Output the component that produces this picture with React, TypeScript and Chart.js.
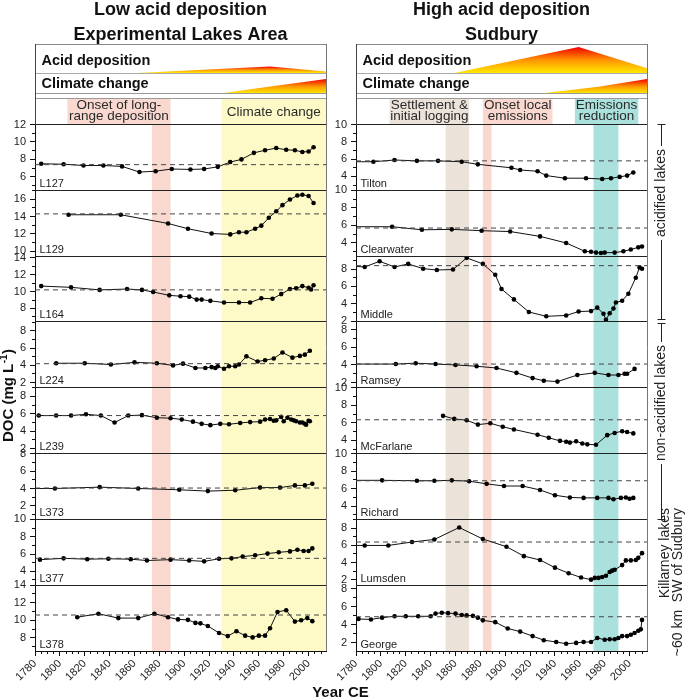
import React, { useEffect, useRef } from "react";
import { Chart, registerables } from "chart.js";

Chart.register(...registerables);

const FONT = "'Liberation Sans', Arial, Helvetica, sans-serif";
Chart.defaults.font.family = FONT;

// ---------------- data ----------------
const X_MIN = 1780;
const X_MAX = 2014;

// Low acid deposition – Experimental Lakes Area
const L127_YEARS = [1785, 1803, 1819, 1835, 1850, 1864, 1877, 1890, 1905, 1916, 1927, 1937, 1946, 1956, 1965, 1974, 1982, 1989, 1995, 2000, 2004];
const L127_DOC = [7.5, 7.45, 7.3, 7.3, 7.2, 6.55, 6.65, 6.9, 6.85, 6.9, 7.15, 7.7, 8.0, 8.75, 9.05, 9.3, 9.1, 9.05, 8.85, 8.9, 9.4];

const L129_YEARS = [1807, 1849, 1887, 1903, 1922, 1937, 1944, 1950, 1957, 1962, 1968, 1974, 1979, 1985, 1991, 1995, 2000, 2004];
const L129_DOC = [14.2, 14.2, 13.2, 12.6, 12.05, 11.95, 12.2, 12.2, 12.6, 12.95, 13.85, 14.6, 15.3, 15.95, 16.4, 16.5, 16.35, 15.55];

const L164_YEARS = [1785, 1809, 1832, 1854, 1866, 1875, 1888, 1897, 1904, 1910, 1914, 1921, 1932, 1944, 1953, 1962, 1971, 1978, 1985, 1990, 1995, 2000, 2002, 2004];
const L164_DOC = [10.65, 10.5, 10.2, 10.3, 10.2, 9.95, 9.55, 9.45, 9.4, 9.05, 9.05, 8.9, 8.7, 8.7, 8.7, 9.2, 9.15, 9.7, 10.3, 10.4, 10.65, 10.45, 10.25, 10.75];

const L224_YEARS = [1797, 1820, 1841, 1860, 1878, 1891, 1899, 1909, 1917, 1922, 1925, 1927, 1932, 1936, 1941, 1944, 1950, 1959, 1965, 1972, 1979, 1987, 1993, 1997, 2001];
const L224_DOC = [4.25, 4.25, 4.1, 4.35, 4.25, 4.0, 4.2, 3.7, 3.7, 3.8, 3.7, 3.9, 3.6, 3.9, 3.9, 4.1, 5.05, 4.45, 4.6, 4.8, 5.5, 4.9, 5.1, 5.25, 5.7];

const L239_YEARS = [1783, 1797, 1809, 1821, 1833, 1844, 1855, 1866, 1878, 1889, 1898, 1907, 1914, 1921, 1929, 1936, 1945, 1953, 1961, 1965, 1969, 1972, 1974, 1978, 1980, 1983, 1986, 1988, 1990, 1993, 1995, 1997, 1998, 2000, 2001];
const L239_DOC = [5.8, 5.8, 5.8, 5.95, 5.8, 5.0, 5.8, 5.85, 5.55, 5.5, 5.35, 5.1, 4.85, 4.7, 4.85, 4.8, 4.95, 5.05, 5.1, 5.35, 5.4, 5.2, 5.25, 5.65, 5.15, 5.55, 5.35, 5.25, 5.15, 5.0, 5.0, 4.85, 4.75, 5.2, 5.15];

const L373_YEARS = [1775, 1796, 1832, 1863, 1896, 1919, 1941, 1961, 1977, 1989, 1997, 2003];
const L373_DOC = [4.0, 4.0, 4.15, 4.0, 3.85, 3.7, 3.8, 4.1, 4.1, 4.35, 4.35, 4.55];

const L377_YEARS = [1784, 1803, 1822, 1839, 1857, 1870, 1889, 1904, 1916, 1928, 1938, 1947, 1957, 1967, 1976, 1985, 1991, 1996, 2000, 2003];
const L377_DOC = [5.35, 5.5, 5.4, 5.45, 5.4, 5.25, 5.35, 5.25, 5.15, 5.45, 5.5, 5.7, 5.85, 6.05, 6.2, 6.3, 6.5, 6.35, 6.35, 6.65];

const L378_YEARS = [1814, 1831, 1847, 1863, 1876, 1887, 1895, 1903, 1909, 1913, 1919, 1928, 1935, 1942, 1949, 1955, 1960, 1965, 1969, 1975, 1982, 1989, 1994, 1999, 2003];
const L378_DOC = [10.35, 10.75, 10.25, 10.25, 10.75, 10.35, 10.1, 10.05, 9.7, 9.65, 9.35, 8.55, 8.2, 8.75, 8.25, 8.05, 8.25, 8.25, 9.1, 10.95, 11.15, 9.85, 10.0, 10.25, 9.9];

// High acid deposition – Sudbury
const TILTON_YEARS = [1775, 1794, 1811, 1829, 1846, 1865, 1878, 1905, 1912, 1926, 1933, 1948, 1965, 1978, 1985, 1992, 1998, 2003];
const TILTON_DOC = [5.7, 5.7, 5.9, 5.8, 5.8, 5.7, 5.4, 5.0, 4.75, 4.6, 4.1, 3.8, 3.8, 3.7, 3.8, 3.95, 4.1, 4.45];

const CLEARWATER_YEARS = [1775, 1809, 1833, 1857, 1881, 1904, 1928, 1949, 1964, 1969, 1973, 1977, 1980, 1988, 1995, 2001, 2007, 2010];
const CLEARWATER_DOC = [5.85, 5.85, 5.5, 5.55, 5.4, 5.3, 4.75, 4.0, 3.05, 3.0, 2.9, 2.85, 2.9, 2.9, 3.05, 3.25, 3.5, 3.6];

const MIDDLE_YEARS = [1775, 1787, 1799, 1811, 1822, 1834, 1845, 1858, 1869, 1882, 1892, 1897, 1907, 1919, 1933, 1949, 1959, 1969, 1974, 1979, 1981, 1984, 1987, 1989, 1994, 1999, 2005, 2008, 2010];
const MIDDLE_DOC = [8.35, 8.25, 8.9, 8.25, 8.6, 8.05, 7.9, 7.95, 9.3, 8.6, 7.35, 5.7, 4.5, 3.05, 2.55, 2.65, 3.1, 3.15, 3.55, 2.85, 2.15, 2.9, 3.45, 4.15, 4.35, 5.15, 7.0, 8.2, 8.05];

const RAMSEY_YEARS = [1775, 1812, 1828, 1844, 1860, 1877, 1893, 1909, 1922, 1931, 1942, 1958, 1972, 1983, 1991, 1996, 1998, 2004];
const RAMSEY_DOC = [4.1, 4.1, 4.2, 4.1, 4.0, 3.85, 3.65, 3.1, 2.5, 2.2, 2.1, 2.85, 3.1, 2.85, 2.85, 3.0, 3.0, 3.55];

const MCFARLANE_YEARS = [1850, 1859, 1869, 1878, 1888, 1898, 1907, 1926, 1935, 1944, 1949, 1952, 1957, 1962, 1966, 1973, 1982, 1988, 1994, 1998, 2003];
const MCFARLANE_DOC = [6.8, 6.45, 6.3, 5.8, 5.95, 5.55, 5.25, 4.65, 4.3, 3.95, 3.85, 3.75, 3.9, 3.65, 3.55, 3.5, 4.6, 4.85, 5.05, 4.95, 4.8];

const RICHARD_YEARS = [1775, 1801, 1829, 1843, 1857, 1871, 1885, 1899, 1914, 1928, 1940, 1952, 1963, 1974, 1983, 1987, 1993, 1997, 2000, 2003];
const RICHARD_DOC = [6.95, 6.95, 6.9, 6.9, 6.95, 6.85, 6.55, 6.3, 6.3, 5.85, 5.25, 5.0, 4.95, 4.95, 4.95, 4.8, 4.95, 5.0, 4.85, 4.95];

const LUMSDEN_YEARS = [1775, 1787, 1806, 1825, 1843, 1863, 1882, 1901, 1915, 1928, 1940, 1951, 1961, 1969, 1972, 1975, 1978, 1981, 1984, 1986, 1988, 1994, 1997, 2001, 2005, 2007, 2010];
const LUMSDEN_DOC = [6.0, 6.0, 6.0, 6.4, 6.7, 8.1, 6.75, 5.85, 4.75, 4.3, 3.4, 2.75, 2.25, 2.0, 2.2, 2.2, 2.3, 2.45, 2.9, 3.05, 3.15, 3.7, 4.25, 4.25, 4.3, 4.55, 5.1];

const GEORGE_YEARS = [1782, 1792, 1801, 1811, 1820, 1830, 1840, 1844, 1849, 1854, 1860, 1865, 1869, 1874, 1878, 1882, 1892, 1902, 1912, 1922, 1931, 1941, 1949, 1957, 1963, 1969, 1974, 1980, 1984, 1988, 1991, 1994, 1998, 2001, 2004, 2007, 2009, 2010];
const GEORGE_DOC = [4.65, 4.6, 4.8, 4.95, 4.95, 4.95, 4.95, 5.25, 5.35, 5.3, 5.25, 5.1, 5.05, 5.0, 4.8, 4.5, 4.3, 3.6, 3.25, 2.75, 2.3, 2.1, 1.9, 2.0, 2.1, 2.1, 2.55, 2.35, 2.4, 2.4, 2.55, 2.75, 2.75, 2.9, 3.1, 3.35, 3.5, 4.55];

// panel names, axis ranges and long-term reference (dashed) levels
const LEFT_NAMES = ["L127", "L129", "L164", "L224", "L239", "L373", "L377", "L378"];
const LEFT_MIN = [4.46, 9.46, 6.4, 1.4, 1.43, 0.46, 2.4, 6.5];
const LEFT_MAX = [12, 17, 14.2, 9.05, 9.0, 8.0, 10, 14];
const LEFT_REF = [7.4, 14.3, 10.2, 4.2, 5.8, 4.05, 5.5, 10.6];

const RIGHT_NAMES = ["Tilton", "Clearwater", "Middle", "Ramsey", "McFarlane", "Richard", "Lumsden", "George"];
const RIGHT_MIN = [2.4, 2.5, 1.9, 1.4, 2.5, 2.5, 1.35, 1.1];
const RIGHT_MAX = [10, 10, 9.5, 8.9, 10, 10, 9.05, 8.4];
const RIGHT_REF = [5.8, 5.7, 8.4, 4.1, 6.35, 6.9, 6.4, 4.9];

// header intensity profiles (fraction of band height)
const LEFT_ACID_YEARS = [1862, 1969, 2014];
const LEFT_ACID_LEVEL = [0, 0.22, 0.05];
const RIGHT_ACID_YEARS = [1859, 1959, 2014];
const RIGHT_ACID_LEVEL = [0, 0.9, 0.16];
const LEFT_CLIMATE_YEARS = [1930, 1965, 2014];
const LEFT_CLIMATE_LEVEL = [0, 0.3, 0.7];
const RIGHT_CLIMATE_YEARS = [1930, 1975, 2014];
const RIGHT_CLIMATE_LEVEL = [0, 0.32, 0.7];

// period bands
const PINK = "#F9D9CF";
const YELLOW = "#FEFAC8";
const BEIGE = "#EBE3DA";
const TEAL = "#ABE1DD";

const LEFT_BANDS = [
  { from: 1874, to: 1889, color: PINK },
  { from: 1930, to: 2014, color: YELLOW },
];
const LEFT_BOXES = [
  { from: 1806, to: 1889, color: PINK, lines: ["Onset of long-", "range deposition"] },
  { from: 1930, to: 2014, color: YELLOW, lines: ["Climate change"] },
];
const RIGHT_BANDS = [
  { from: 1852, to: 1871, color: BEIGE },
  { from: 1882, to: 1889, color: PINK },
  { from: 1971, to: 1991, color: TEAL },
];
const RIGHT_BOXES = [
  { from: 1807, to: 1871, color: BEIGE, lines: ["Settlement &", "initial logging"] },
  { from: 1882, to: 1938, color: PINK, lines: ["Onset local", "emissions"] },
  { from: 1956, to: 2007, color: TEAL, lines: ["Emissions", "reduction"] },
];

// ---------------- layout ----------------
const HEADER_TOP = 44;
const ACID_BASE = 73;
const CLIM_BASE = 93.3;
const LABEL_TOP = 98;
const PLOT_TOP = 124.5;
const CANVAS_H = 698;
const XAXIS_H = 40;
const PAD_BOTTOM = 7;

type Band = { from: number; to: number; color: string };
type Box = { from: number; to: number; color: string; lines: string[] };

interface ColumnSpec {
  id: string;
  title: string[];
  names: string[];
  years: number[][];
  doc: number[][];
  mins: number[];
  maxs: number[];
  refs: number[];
  acidYears: number[];
  acidLevels: number[];
  climYears: number[];
  climLevels: number[];
  bands: Band[];
  boxes: Box[];
  axisWidth: number;
  padRight: number;
  extra: (ctx: CanvasRenderingContext2D, chart: any, ys: any[]) => void;
}

function crisp(v: number) {
  return Math.round(v - 0.5) + 0.5;
}

function seg(ctx: CanvasRenderingContext2D, x0: number, y0: number, x1: number, y1: number, color: string) {
  ctx.strokeStyle = color;
  ctx.lineWidth = 1;
  ctx.beginPath();
  ctx.moveTo(x0, y0);
  ctx.lineTo(x1, y1);
  ctx.stroke();
}

function drawHeaderPoly(ctx: CanvasRenderingContext2D, xs: any, years: number[], levels: number[], base: number, h: number) {
  const maxL = Math.max(...levels);
  const g = ctx.createLinearGradient(0, base, 0, base - maxL * h);
  g.addColorStop(0, "#FFE900");
  g.addColorStop(0.5, "#FF9400");
  g.addColorStop(1, "#F20000");
  ctx.beginPath();
  ctx.moveTo(xs.getPixelForValue(years[0]), base);
  years.forEach((yr, k) => ctx.lineTo(xs.getPixelForValue(yr), base - levels[k] * h));
  ctx.lineTo(xs.getPixelForValue(years[years.length - 1]), base);
  ctx.closePath();
  ctx.fillStyle = g;
  ctx.fill();
}

function rotText(ctx: CanvasRenderingContext2D, text: string, x: number, y: number, align: CanvasTextAlign, baseline: CanvasTextBaseline) {
  ctx.save();
  ctx.translate(x, y);
  ctx.rotate(-Math.PI / 2);
  ctx.textAlign = align;
  ctx.textBaseline = baseline;
  ctx.fillText(text, 0, 0);
  ctx.restore();
}

function leftExtra(ctx: CanvasRenderingContext2D) {
  ctx.save();
  ctx.translate(12.5, 396);
  ctx.rotate(-Math.PI / 2);
  ctx.fillStyle = "#111";
  ctx.textAlign = "left";
  ctx.textBaseline = "alphabetic";
  const f1 = `bold 15px ${FONT}`;
  const f2 = `bold 10px ${FONT}`;
  ctx.font = f1;
  const w1 = ctx.measureText("DOC (mg L").width;
  const w3 = ctx.measureText(")").width;
  ctx.font = f2;
  const w2 = ctx.measureText("-1").width;
  let x = -(w1 + w2 + w3) / 2;
  ctx.font = f1;
  ctx.fillText("DOC (mg L", x, 0);
  x += w1 + 0.5;
  ctx.font = f2;
  ctx.fillText("-1", x, -6);
  x += w2 + 0.5;
  ctx.font = f1;
  ctx.fillText(")", x, 0);
  ctx.restore();
}

function rightExtra(ctx: CanvasRenderingContext2D, chart: any, ys: any[]) {
  const bx = 331.5;
  const col = "#222";
  const aTop = crisp(ys[0].top);
  const aBot = ys[2].bottom;
  const nBot = crisp(ys[5].bottom);
  const b1 = crisp(aBot - 2);
  const b2 = crisp(aBot + 2);
  ctx.save();
  ctx.font = `14px ${FONT}`;
  ctx.fillStyle = col;
  const wA = ctx.measureText("acidified lakes").width;
  const wN = ctx.measureText("non-acidified lakes").width;
  const cA = 193;
  const cN = 403;
  const gap = 3;
  seg(ctx, bx - 4, aTop, bx + 4, aTop, col);
  seg(ctx, bx, aTop, bx, cA - wA / 2 - gap, col);
  seg(ctx, bx, cA + wA / 2 + gap, bx, b1, col);
  seg(ctx, bx - 4, b1, bx + 4, b1, col);
  seg(ctx, bx - 4, b2, bx + 4, b2, col);
  seg(ctx, bx, b2, bx, cN - wN / 2 - gap, col);
  seg(ctx, bx, cN + wN / 2 + gap, bx, nBot, col);
  seg(ctx, bx - 4, nBot, bx + 4, nBot, col);
  rotText(ctx, "acidified lakes", bx, cA, "center", "middle");
  rotText(ctx, "non-acidified lakes", bx, cN, "center", "middle");
  rotText(ctx, "Killarney lakes", 339, 508, "right", "alphabetic");
  rotText(ctx, "~60 km  SW of Sudbury", 352, 508, "right", "alphabetic");
  ctx.restore();
}

const LEFT_SPEC: ColumnSpec = {
  id: "left",
  title: ["Low acid deposition", "Experimental Lakes Area"],
  names: LEFT_NAMES,
  years: [L127_YEARS, L129_YEARS, L164_YEARS, L224_YEARS, L239_YEARS, L373_YEARS, L377_YEARS, L378_YEARS],
  doc: [L127_DOC, L129_DOC, L164_DOC, L224_DOC, L239_DOC, L373_DOC, L377_DOC, L378_DOC],
  mins: LEFT_MIN,
  maxs: LEFT_MAX,
  refs: LEFT_REF,
  acidYears: LEFT_ACID_YEARS,
  acidLevels: LEFT_ACID_LEVEL,
  climYears: LEFT_CLIMATE_YEARS,
  climLevels: LEFT_CLIMATE_LEVEL,
  bands: LEFT_BANDS,
  boxes: LEFT_BOXES,
  axisWidth: 35,
  padRight: 3,
  extra: (ctx) => leftExtra(ctx),
};

const RIGHT_SPEC: ColumnSpec = {
  id: "right",
  title: ["High acid deposition", "Sudbury"],
  names: RIGHT_NAMES,
  years: [TILTON_YEARS, CLEARWATER_YEARS, MIDDLE_YEARS, RAMSEY_YEARS, MCFARLANE_YEARS, RICHARD_YEARS, LUMSDEN_YEARS, GEORGE_YEARS],
  doc: [TILTON_DOC, CLEARWATER_DOC, MIDDLE_DOC, RAMSEY_DOC, MCFARLANE_DOC, RICHARD_DOC, LUMSDEN_DOC, GEORGE_DOC],
  mins: RIGHT_MIN,
  maxs: RIGHT_MAX,
  refs: RIGHT_REF,
  acidYears: RIGHT_ACID_YEARS,
  acidLevels: RIGHT_ACID_LEVEL,
  climYears: RIGHT_CLIMATE_YEARS,
  climLevels: RIGHT_CLIMATE_LEVEL,
  bands: RIGHT_BANDS,
  boxes: RIGHT_BOXES,
  axisWidth: 26,
  padRight: 38,
  extra: rightExtra,
};

function buildChart(canvas: HTMLCanvasElement, spec: ColumnSpec) {
  const n = spec.names.length;
  const tickFont = { size: 11, family: FONT };
  const scales: any = {
    x: {
      type: "linear",
      position: "bottom",
      min: X_MIN,
      max: X_MAX,
      grid: { display: false, drawTicks: false },
      border: { display: true, color: "#111", width: 1 },
      ticks: {
        stepSize: 5,
        autoSkip: false,
        includeBounds: false,
        minRotation: 45,
        maxRotation: 45,
        padding: 6,
        font: tickFont,
        color: "#222",
        callback: (v: any) => (Number(v) % 20 === 0 ? String(v) : ""),
      },
      afterFit: (s: any) => {
        s.height = XAXIS_H;
        s.paddingLeft = 0;
        s.paddingRight = 0;
      },
    },
  };
  spec.names.forEach((_, i) => {
    scales["y" + i] = {
      type: "linear",
      position: "left",
      stack: "lakes",
      stackWeight: 1,
      weight: n - i,
      min: spec.mins[i],
      max: spec.maxs[i],
      grid: { display: false, drawTicks: false },
      border: { display: true, color: "#111", width: 1 },
      ticks: {
        stepSize: 1,
        autoSkip: false,
        includeBounds: false,
        padding: 9,
        font: tickFont,
        color: "#222",
        callback: (v: any) => (Number(v) % 2 === 0 ? String(v) : ""),
      },
      afterFit: (s: any) => {
        s.width = spec.axisWidth;
        s.paddingTop = 0;
        s.paddingBottom = 0;
      },
    };
  });

  const datasets: any[] = [];
  spec.names.forEach((name, i) => {
    datasets.push({
      type: "line",
      label: name + " reference",
      data: [
        { x: X_MIN, y: spec.refs[i] },
        { x: X_MAX, y: spec.refs[i] },
      ],
      xAxisID: "x",
      yAxisID: "y" + i,
      borderColor: "#444",
      borderWidth: 1,
      borderDash: [5, 4],
      pointRadius: 0,
      fill: false,
    });
    datasets.push({
      type: "line",
      label: name,
      data: spec.years[i].map((yr, j) => ({ x: yr, y: spec.doc[i][j] })),
      xAxisID: "x",
      yAxisID: "y" + i,
      borderColor: "#111",
      borderWidth: 1,
      pointRadius: 2.3,
      pointBackgroundColor: "#000",
      pointBorderColor: "#000",
      pointBorderWidth: 0,
      tension: 0,
      fill: false,
    });
  });

  const plugin = {
    id: "docPanels_" + spec.id,
    beforeDraw(chart: any) {
      const ctx: CanvasRenderingContext2D = chart.ctx;
      const ca = chart.chartArea;
      const xs = chart.scales.x;
      ctx.save();
      ctx.fillStyle = "#fff";
      ctx.fillRect(0, 0, chart.width, chart.height);
      spec.boxes.forEach((b) => {
        const x0 = xs.getPixelForValue(b.from);
        const x1 = xs.getPixelForValue(b.to);
        ctx.fillStyle = b.color;
        ctx.fillRect(x0, LABEL_TOP, x1 - x0, ca.top - LABEL_TOP);
      });
      spec.bands.forEach((b) => {
        const x0 = xs.getPixelForValue(b.from);
        const x1 = xs.getPixelForValue(b.to);
        ctx.fillStyle = b.color;
        ctx.fillRect(x0, ca.top, x1 - x0, ca.bottom - ca.top);
      });
      ctx.restore();
    },
    afterDraw(chart: any) {
      const ctx: CanvasRenderingContext2D = chart.ctx;
      const ca = chart.chartArea;
      const xs = chart.scales.x;
      const ys = spec.names.map((_, i) => chart.scales["y" + i]);
      ctx.save();
      // titles
      ctx.fillStyle = "#111";
      ctx.font = `bold 18px ${FONT}`;
      ctx.textAlign = "center";
      ctx.textBaseline = "alphabetic";
      const cx = (ca.left + ca.right) / 2;
      ctx.fillText(spec.title[0], cx, 14.5);
      ctx.fillText(spec.title[1], cx, 39.5);

      // header gradients
      drawHeaderPoly(ctx, xs, spec.acidYears, spec.acidLevels, ACID_BASE, ACID_BASE - HEADER_TOP);
      drawHeaderPoly(ctx, xs, spec.climYears, spec.climLevels, CLIM_BASE, CLIM_BASE - ACID_BASE);

      // header lines
      seg(ctx, ca.left, crisp(HEADER_TOP), ca.right, crisp(HEADER_TOP), "#888");
      seg(ctx, ca.left, crisp(ACID_BASE), ca.right, crisp(ACID_BASE), "#aaa");
      seg(ctx, ca.left, crisp(CLIM_BASE), ca.right, crisp(CLIM_BASE), "#999");
      seg(ctx, ca.left, crisp(LABEL_TOP), ca.right, crisp(LABEL_TOP), "#999");

      // header texts
      ctx.fillStyle = "#111";
      ctx.font = `bold 14.5px ${FONT}`;
      ctx.textAlign = "left";
      ctx.fillText("Acid deposition", ca.left + 6.5, 65);
      ctx.fillText("Climate change", ca.left + 6.5, 87.5);

      // period label texts
      ctx.font = `13.5px ${FONT}`;
      ctx.textAlign = "center";
      ctx.fillStyle = "#2a2a2a";
      spec.boxes.forEach((b) => {
        const mx = (xs.getPixelForValue(b.from) + xs.getPixelForValue(b.to)) / 2;
        if (b.lines.length === 1) {
          ctx.fillText(b.lines[0], mx, 116);
        } else {
          ctx.fillText(b.lines[0], mx, 108.5);
          ctx.fillText(b.lines[1], mx, 120);
        }
      });

      // panel separators and frame
      ys.forEach((s) => seg(ctx, ca.left, crisp(s.top), ca.right, crisp(s.top), "#222"));
      seg(ctx, crisp(ca.right), HEADER_TOP, crisp(ca.right), ca.bottom, "#777");
      seg(ctx, crisp(ca.left), HEADER_TOP, crisp(ca.left), ca.top, "#444");

      // tick marks (major / minor)
      ys.forEach((s) => {
        s.ticks.forEach((t: any) => {
          const py = crisp(s.getPixelForValue(t.value));
          const len = t.value % 2 === 0 ? 5 : 3;
          seg(ctx, s.right - len, py, s.right, py, "#111");
        });
      });
      xs.ticks.forEach((t: any) => {
        const px = crisp(xs.getPixelForValue(t.value));
        const len = t.value % 20 === 0 ? 5 : 3;
        seg(ctx, px, xs.top, px, xs.top + len, "#111");
      });

      // lake names
      ctx.font = `11px ${FONT}`;
      ctx.textAlign = "left";
      ctx.fillStyle = "#222";
      ys.forEach((s, i) => ctx.fillText(spec.names[i], ca.left + 4.5, s.bottom - 3.5));

      spec.extra(ctx, chart, ys);
      ctx.restore();
    },
  };

  return new Chart(canvas, {
    type: "line",
    data: { datasets },
    options: {
      responsive: false,
      animation: false,
      events: [],
      layout: { padding: { top: PLOT_TOP, left: 0, right: spec.padRight, bottom: PAD_BOTTOM } },
      plugins: { legend: { display: false }, tooltip: { enabled: false }, title: { display: false } },
      scales,
    } as any,
    plugins: [plugin],
  } as any);
}

export default function App() {
  const leftRef = useRef<HTMLCanvasElement>(null);
  const rightRef = useRef<HTMLCanvasElement>(null);

  useEffect(() => {
    const c1 = buildChart(leftRef.current!, LEFT_SPEC);
    const c2 = buildChart(rightRef.current!, RIGHT_SPEC);
    return () => {
      c1.destroy();
      c2.destroy();
    };
  }, []);

  return (
    <div
      style={{
        position: "absolute",
        left: 0,
        top: 0,
        width: 685,
        height: CANVAS_H,
        overflow: "hidden",
        background: "#fff",
        fontFamily: FONT,
      }}
    >
      <canvas ref={leftRef} width={330} height={CANVAS_H} style={{ position: "absolute", left: 0, top: 0, width: 330, height: CANVAS_H }} />
      <canvas ref={rightRef} width={355} height={CANVAS_H} style={{ position: "absolute", left: 330, top: 0, width: 355, height: CANVAS_H }} />
      <div
        style={{
          position: "absolute",
          left: 0,
          top: 684,
          width: 681,
          textAlign: "center",
          font: `bold 15px ${FONT}`,
          lineHeight: "15px",
          color: "#111",
        }}
      >
        Year CE
      </div>
    </div>
  );
}
